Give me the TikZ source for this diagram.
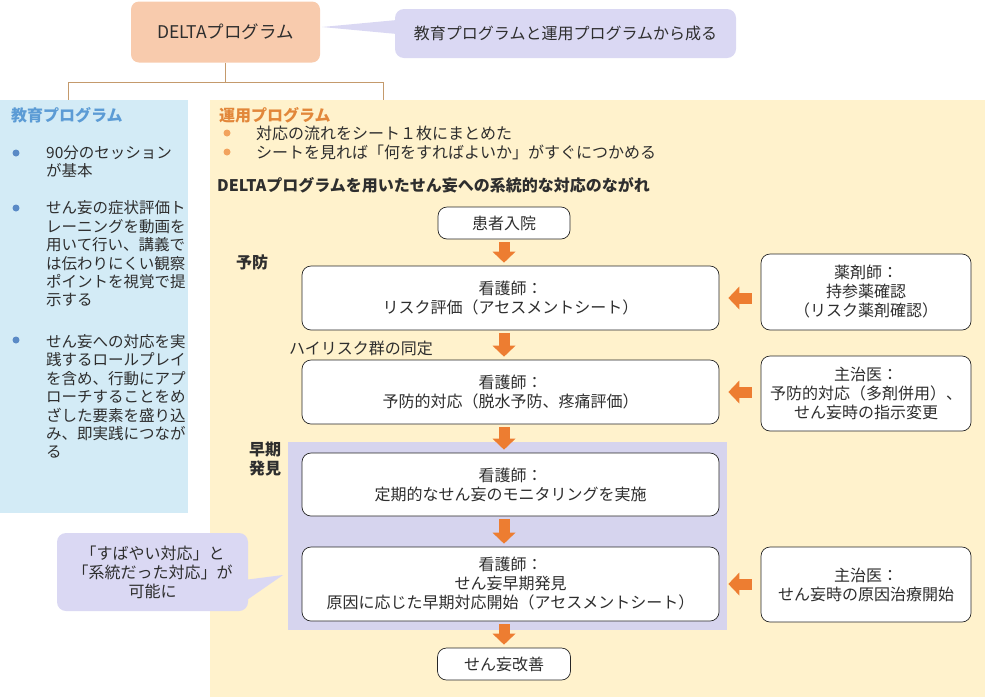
\documentclass[tikz,border=0pt]{standalone}
\usepackage{fontspec}
\setmainfont{Noto Sans CJK JP}
\usetikzlibrary{arrows.meta,calc}
\definecolor{peach}{HTML}{F8CBAD}
\definecolor{lavender}{HTML}{DAD8F3}
\definecolor{lavpanel}{HTML}{D6D4EE}
\definecolor{paleblue}{HTML}{D3EBF6}
\definecolor{paleyellow}{HTML}{FFF2CC}
\definecolor{arrorange}{HTML}{ED7D31}
\definecolor{titleblue}{HTML}{5B9BD5}
\definecolor{dotblue}{HTML}{5A8AC6}
\definecolor{titleorange}{HTML}{E2873A}
\definecolor{dotorange}{HTML}{F2A35E}
\definecolor{treebrown}{HTML}{C49A6C}
\definecolor{ink}{HTML}{2E2E2E}
\begin{document}
\begin{tikzpicture}[x=1pt,y=-1pt,line join=round,font=\fontsize{16}{19}\selectfont,text=ink,
	flowbox/.style={draw=black!85,fill=white,rounded corners=9pt,line width=0.7pt,align=center,inner sep=0pt},
	callout/.style={fill=lavender,rounded corners=9pt,align=center,inner sep=0pt},
	downarr/.style={line width=11pt,draw=arrorange,-{Triangle[width=23pt,length=11pt,line width=0pt]},shorten <=3pt,shorten >=3pt},
	sidearr/.style={downarr,shorten <=9pt,shorten >=9pt},
	dot/.style={circle,inner sep=0pt,minimum size=7pt},
	lbl/.style={anchor=west,align=left,inner sep=0pt},
	bold/.style={font=\fontsize{16}{19}\selectfont\bfseries},
	small/.style={font=\fontsize{15.5}{18.4}\selectfont},
	treeline/.style={draw=treebrown,line width=0.8pt}]
	\useasboundingbox (0,0) rectangle (985,697);
	% Hintergrund
	\fill[paleblue] (0,100) rectangle (188,513);
	\fill[paleyellow] (210,100) rectangle (985,697);
	\fill[lavpanel] (288,442) rectangle (727,630);
	% Kopf
	\node[fill=peach,rounded corners=8pt,minimum width=189pt,minimum height=61pt,inner sep=0pt,font=\fontsize{17.5}{20}\selectfont] (delta) at (225.5,32) {DELTAプログラム};
	\fill[lavender] (397,20)--(322,27)--(397,34)--cycle;
	\node[callout,minimum width=341pt,minimum height=49pt] (note) at (565.5,33.5) {教育プログラムと運用プログラムから成る};
	\coordinate (tl) at (68,82); \coordinate (tr) at (383,82);
	\draw[treeline] (delta.south)--(delta.south |- tl) (tl)--(tr) (tl)--(68,100) (tr)--(383,100);
	% 教育プログラム
	\node[lbl,bold,text=titleblue] (edu) at (11,115) {教育プログラム};
	\foreach \y in {153,208,340} \node[dot,fill=dotblue] at (16,\y) {};
	\node[lbl,small] (e1) at (46,161.5) {90分のセッション\\が基本};
	\node[lbl,small] (e2) at (46,254) {せん妄の症状評価ト\\レーニングを動画を\\用いて行い、講義で\\は伝わりにくい観察\\ポイントを視覚で提\\示する};
	\node[lbl,small] (e3) at (46,396.5) {せん妄への対応を実\\践するロールプレイ\\を含め、行動にアプ\\ローチすることをめ\\ざした要素を盛り込\\み、即実践につなが\\る};
	% 運用プログラム
	\node[lbl,bold,text=titleorange] (ops) at (219,115) {運用プログラム};
	\foreach \y in {133,152} \node[dot,fill=dotorange] at (227,\y) {};
	\node[lbl] (o1) at (256,133) {対応の流れをシート１枚にまとめた};
	\node[lbl] (o2) at (256,152) {シートを見れば「何をすればよいか」がすぐにつかめる};
	\node[lbl,bold] (head) at (217,185) {DELTAプログラムを用いたせん妄への系統的な対応のながれ};
	% Fluss
	\node[flowbox,minimum width=132pt,minimum height=32pt] (admit) at (504,223) {患者入院};
	\node[flowbox,minimum width=417pt,minimum height=64pt] (risk) at (510.5,298) {看護師：\\リスク評価（アセスメントシート）};
	\node[flowbox,minimum width=417pt,minimum height=64pt] (prev) at (510.5,392) {看護師：\\予防的対応（脱水予防、疼痛評価）};
	\node[flowbox,minimum width=417pt,minimum height=63pt] (monitor) at (510.5,484.5) {看護師：\\定期的なせん妄のモニタリングを実施};
	\node[flowbox,minimum width=417pt,minimum height=74pt] (early) at (510.5,584) {看護師：\\せん妄早期発見\\原因に応じた早期対応開始（アセスメントシート）};
	\node[flowbox,minimum width=133pt,minimum height=32pt] (better) at (504,664) {せん妄改善};
	\node[flowbox,minimum width=210pt,minimum height=76pt] (pharm) at (866,292) {薬剤師：\\持参薬確認\\（リスク薬剤確認）};
	\node[flowbox,minimum width=210pt,minimum height=75pt] (doc1) at (866,393.5) {主治医：\\予防的対応（多剤併用）、\\せん妄時の指示変更};
	\node[flowbox,minimum width=210pt,minimum height=75pt] (doc2) at (866,584.5) {主治医：\\せん妄時の原因治療開始};
	\node[lbl,bold] (yobo) at (236,262) {予防};
	\node[lbl,bold] (soki) at (249,459.5) {早期\\発見};
	\node[lbl] (high) at (289,348) {ハイリスク群の同定};
	% Pfeile
	\coordinate (col) at (admit.south);
	\draw[downarr] (col)--(col |- risk.north);
	\draw[downarr] (col |- risk.south)--(col |- prev.north);
	\draw[downarr] (col |- prev.south)--(col |- monitor.north);
	\draw[downarr] (col |- monitor.south)--(col |- early.north);
	\draw[downarr] (col |- early.south)--(better.north);
	\draw[sidearr] (risk.east -| pharm.west)--(risk.east);
	\draw[sidearr] (prev.east -| doc1.west)--(prev.east);
	\draw[sidearr] (early.east -| doc2.west)--(early.east);
	% Sprechblase links
	\fill[lavender] (244,580)--(283,575)--(244,602)--cycle;
	\node[callout,minimum width=191pt,minimum height=78pt] (quick) at (152.5,572) {「すばやい対応」と\\「系統だった対応」が\\可能に};
\end{tikzpicture}
\end{document}
